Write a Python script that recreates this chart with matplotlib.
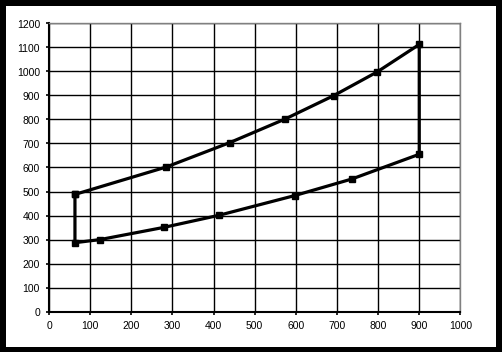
import matplotlib.pyplot as plt
from matplotlib.patches import Rectangle

# Closed loop: upper branch left -> right, then lower branch right -> left
x_vals = [63, 285, 440, 573, 692, 798, 900, 900, 736, 597, 413, 280, 124, 63, 63]
y_vals = [488, 602, 704, 801, 899, 998, 1112, 655, 552, 483, 401, 351, 300, 287, 488]

x_ticks = [0, 100, 200, 300, 400, 500, 600, 700, 800, 900, 1000]
y_ticks = [0, 100, 200, 300, 400, 500, 600, 700, 800, 900, 1000, 1100, 1200]

plt.rcParams['font.family'] = ['Liberation Sans', 'DejaVu Sans']

W, H = 502, 352
fig = plt.figure(figsize=(W / 100 + 0.004, H / 100 + 0.004), dpi=100)
fig.patch.set_facecolor('black')
# white chart area inside the black frame
fig.add_artist(Rectangle((6 / W, 5 / H), (W - 12) / W, (H - 11) / H,
                         transform=fig.transFigure, facecolor='white',
                         edgecolor='none', zorder=0))

ax = fig.add_axes([49 / W, (H - 311.7) / H, 411 / W, 288 / H])
ax.set_facecolor('white')
ax.plot(x_vals, y_vals, color='black', linewidth=2.3, marker='s',
        markersize=4.5, solid_joinstyle='miter', zorder=3)

ax.set_xlim(0, 1000)
ax.set_ylim(0, 1200)
ax.set_xticks(x_ticks)
ax.set_yticks(y_ticks)
ax.grid(True, color='black', linewidth=1.0)
ax.set_axisbelow(True)

for s in ['left', 'bottom']:
    ax.spines[s].set_color('black')
    ax.spines[s].set_linewidth(1.5)
for s in ['top', 'right']:
    ax.spines[s].set_color('#808080')
    ax.spines[s].set_linewidth(1.0)

ax.tick_params(axis='both', direction='out', length=2.5, width=1.2,
               labelsize=7.5, colors='black')
ax.tick_params(axis='x', pad=4)
ax.tick_params(axis='y', pad=4)

fig.savefig('out.png', dpi=100, facecolor=fig.get_facecolor())
